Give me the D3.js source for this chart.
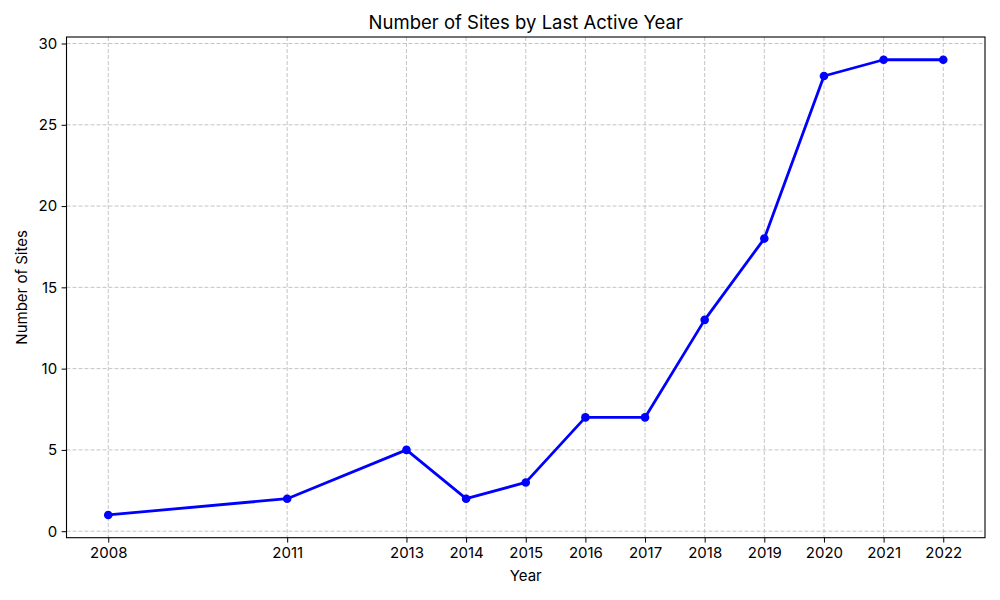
<!DOCTYPE html>
<html><head><meta charset="utf-8">
<script src="https://cdn.jsdelivr.net/npm/d3@7"></script>
<style>
body{margin:0;background:#fff;}
svg{display:block;font-family:Inter, "Noto Sans", sans-serif;}
</style></head>
<body><svg id="c" width="1000" height="600"></svg>
<script>
const years = [2008, 2011, 2013, 2014, 2015, 2016, 2017, 2018, 2019, 2020, 2021, 2022];
const sites = [1, 2, 5, 2, 3, 7, 7, 13, 18, 28, 29, 29];
const yTicks = [0, 5, 10, 15, 20, 25, 30];
const title = "Number of Sites by Last Active Year";
const xLabel = "Year";
const yLabel = "Number of Sites";

const svg = d3.select("#c");
const L = 66.5, R = 985, T = 37, B = 537.7;
const x = d3.scaleLinear().domain([2007.3, 2022.7]).range([L, R]);
const y = d3.scaleLinear().domain([-0.4, 30.4]).range([B, T]);

// grid
const g = svg.append("g");
g.selectAll("line.vx").data(years).join("line")
  .attr("x1", d => x(d)).attr("x2", d => x(d)).attr("y1", T).attr("y2", B)
  .attr("stroke", "#c4c4c4").attr("stroke-width", 1).attr("stroke-dasharray", "4,2");
g.selectAll("line.hy").data(yTicks).join("line")
  .attr("class","hy")
  .attr("y1", d => y(d)).attr("y2", d => y(d)).attr("x1", L).attr("x2", R)
  .attr("stroke", "#c4c4c4").attr("stroke-width", 1).attr("stroke-dasharray", "4,2");

// axes
const xAxis = d3.axisBottom(x).tickValues(years).tickFormat(d3.format("d")).tickSize(4.9).tickPadding(4.5);
const yAxis = d3.axisLeft(y).tickValues(yTicks).tickFormat(d3.format("d")).tickSize(4.9).tickPadding(4.5);
const gx = svg.append("g").attr("transform", `translate(0,${B})`).call(xAxis);
const gy = svg.append("g").attr("transform", `translate(${L},0)`).call(yAxis);
[gx, gy].forEach(a => {
  a.select(".domain").remove();
  a.selectAll("text").attr("font-size", 15).attr("fill", "#000").attr("font-family", "Inter");
  a.selectAll(".tick line").attr("stroke", "#000").attr("stroke-width", 1);
});

// frame
svg.append("rect").attr("x", L).attr("y", T).attr("width", R - L).attr("height", B - T)
  .attr("fill", "none").attr("stroke", "#000").attr("stroke-width", 1.1);

// line
const line = d3.line().x((d, i) => x(years[i])).y(d => y(d));
svg.append("path").datum(sites).attr("d", line)
  .attr("fill", "none").attr("stroke", "#0000ff").attr("stroke-width", 2.8).attr("stroke-linejoin", "round");
svg.selectAll("circle.pt").data(sites).join("circle")
  .attr("cx", (d, i) => x(years[i])).attr("cy", d => y(d)).attr("r", 4.3).attr("fill", "#0000ff");

// labels
svg.append("text").attr("x", (L + R) / 2).attr("y", 29).attr("text-anchor", "middle")
  .attr("font-size", 18.5).attr("fill", "#000").text(title);
svg.append("text").attr("x", (L + R) / 2).attr("y", 581).attr("text-anchor", "middle")
  .attr("font-size", 15).attr("fill", "#000").text(xLabel);
svg.append("text").attr("transform", `translate(27,${(T + B) / 2}) rotate(-90)`).attr("text-anchor", "middle")
  .attr("font-size", 15).attr("fill", "#000").text(yLabel);
</script></body></html>
